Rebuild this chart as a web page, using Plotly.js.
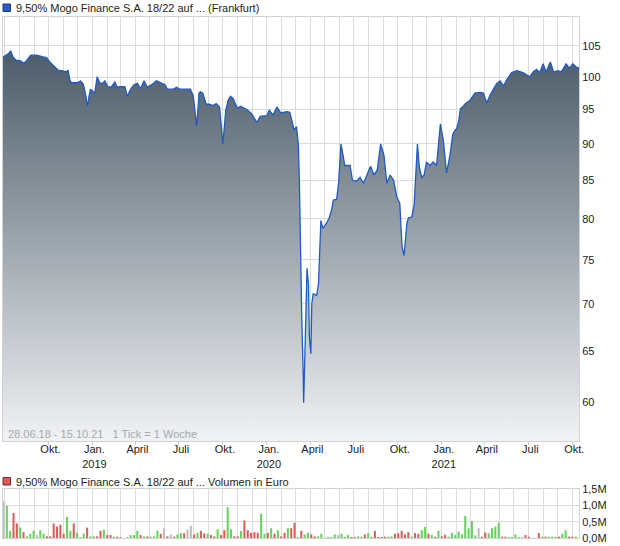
<!DOCTYPE html>
<html>
<head>
<meta charset="utf-8">
<script src="https://cdn.plot.ly/plotly-3.0.1.min.js"></script>
<style>html,body{margin:0;padding:0;background:#fff;}#chart{width:620px;height:546px;}</style>
</head>
<body>
<div id="chart"></div>
<script>
// ---- price series (Frankfurt) ----
const priceDates = [
'2018-06-28','2018-07-09','2018-07-14','2018-07-19','2018-07-25','2018-08-02','2018-08-11','2018-08-16','2018-08-25','2018-09-06',
'2018-09-20','2018-09-27','2018-10-04','2018-10-11','2018-10-21','2018-11-01','2018-11-08','2018-11-11','2018-11-15','2018-11-18',
'2018-12-02','2018-12-07','2018-12-13','2018-12-18','2018-12-22','2018-12-25','2018-12-28',
'2019-01-03','2019-01-06','2019-01-11',
'2019-01-17','2019-01-22','2019-01-27','2019-02-03','2019-02-10','2019-02-17','2019-02-22','2019-02-28','2019-03-10','2019-03-15',
'2019-03-22','2019-03-29','2019-04-05','2019-04-12','2019-04-19','2019-04-26','2019-05-05','2019-05-15','2019-05-26','2019-06-02',
'2019-06-07','2019-06-19','2019-06-26','2019-07-03','2019-07-25','2019-07-31','2019-08-03','2019-08-07','2019-08-10','2019-08-12',
'2019-08-15','2019-08-20','2019-08-27','2019-09-03','2019-09-10','2019-09-17','2019-09-24','2019-09-28','2019-10-01','2019-10-07',
'2019-10-12','2019-10-17','2019-10-23','2019-10-31','2019-11-07','2019-11-20','2019-11-30','2019-12-11','2019-12-18',
'2020-01-01','2020-01-06','2020-01-14','2020-01-22','2020-01-30','2020-02-12','2020-02-18','2020-02-24','2020-02-27','2020-03-03','2020-03-07',
'2020-03-09','2020-03-10','2020-03-12','2020-03-14','2020-03-17','2020-03-18','2020-03-19','2020-03-21','2020-03-25','2020-03-28',
'2020-03-30','2020-04-02','2020-04-04','2020-04-07','2020-04-14','2020-04-18','2020-04-20','2020-04-23','2020-04-27','2020-05-05',
'2020-05-11','2020-05-16','2020-05-19','2020-05-26','2020-05-30','2020-06-02','2020-06-04','2020-06-09','2020-06-12','2020-06-23',
'2020-06-28','2020-07-07','2020-07-14','2020-07-21','2020-07-29','2020-08-05','2020-08-12','2020-08-19','2020-08-26','2020-09-02',
'2020-09-08','2020-09-15','2020-09-22','2020-09-29','2020-10-05','2020-10-10','2020-10-14','2020-10-20','2020-10-23','2020-10-30',
'2020-11-04','2020-11-07','2020-11-11','2020-11-15','2020-11-20','2020-11-25','2020-11-30','2020-12-07','2020-12-14','2020-12-21',
'2020-12-25','2020-12-29',
'2021-01-04','2021-01-11','2021-01-18','2021-01-24','2021-01-29','2021-02-01','2021-02-05','2021-02-09',
'2021-02-15','2021-02-19','2021-03-01','2021-03-08','2021-03-11','2021-03-22','2021-03-29','2021-04-05','2021-04-12','2021-04-19',
'2021-04-26','2021-05-03','2021-05-10','2021-05-17','2021-05-27','2021-06-07','2021-06-20','2021-07-04','2021-07-11','2021-07-18',
'2021-07-25','2021-08-01','2021-08-07','2021-08-16','2021-08-23','2021-09-01','2021-09-08','2021-09-18','2021-09-25','2021-10-02',
'2021-10-10','2021-10-15'];

const priceValues = [
103.2,103.7,104.2,103.2,102.7,102.6,102.2,102.6,103.5,103.5,
103.2,103.1,102.4,101.9,101.1,100.95,100.8,101.1,99.5,99.1,
99.1,99.4,98.9,97.2,95.5,97.0,98.1,
97.7,97.5,100.05,
99.0,99.0,99.4,98.4,98.5,99.2,98.4,98.5,98.5,97.0,
98.1,98.8,99.0,98.2,99.4,98.4,98.8,99.4,99.1,98.8,
98.1,98.1,98.4,98.1,98.1,97.05,95.2,92.6,95.2,97.5,
97.7,97.5,95.8,95.8,95.6,95.9,95.4,92.6,90.0,94.9,
96.4,97.0,96.6,95.2,95.5,95.0,94.4,93.1,94.0,
94.1,94.9,94.2,95.4,94.5,94.7,94.6,92.9,92.0,92.5,89.8,
85.0,80.2,74.6,68.5,62.7,59.9,61.7,65.0,74.0,72.2,
66.4,64.7,70.0,71.1,70.9,72.2,75.3,79.8,78.8,79.45,
80.2,81.3,82.4,82.5,84.6,88.2,90.0,88.2,87.0,87.0,
85.0,84.9,85.4,84.6,85.9,86.9,85.7,86.4,90.0,88.4,
84.6,85.7,85.0,82.8,82.0,76.5,75.5,79.45,80.1,80.2,
81.7,85.0,90.0,86.8,85.4,85.7,87.5,87.0,87.5,87.0,
90.6,92.9,
90.6,86.0,88.4,91.4,92.0,92.2,93.2,95.1,
95.5,95.9,96.4,97.2,97.5,97.6,97.5,96.0,97.2,98.1,
99.0,99.4,98.6,99.6,100.7,101.0,100.7,100.05,100.8,101.2,
100.7,102.1,100.8,102.4,100.8,101.0,100.8,102.1,101.4,102.1,
101.5,101.5];

// ---- weekly volume (million euro) ----
const volumeWeekStart = '2018-06-29';
const volumeMillions = [
1.13,0.99,0.22,0.77,0.45,0.32,0.18,0.05,0.13,0.22,
0.09,0.24,0.13,0.05,0.05,0.45,0.35,0.41,0.13,0.65,
0.22,0.45,0.16,0.03,0.14,0.32,0.05,0.05,0.05,0.22,
0.26,0.09,0.09,0.04,0.04,0.02,0,0.02,0.09,0.09,
0.22,0.09,0.05,0.05,0.04,0.05,0.22,0.13,0.30,0.05,
0.11,0.04,0.11,0.15,0.15,0.26,0.38,0.11,0.16,0.22,
0.14,0.13,0.09,0.05,0.27,0.09,0.24,0.95,0.27,0.05,
0.05,0.22,0.54,0.24,0.16,0.18,0.16,0.75,0.13,0.16,
0.30,0.13,0.24,0.05,0.16,0.30,0.30,0.47,0.03,0.22,
0.11,0.16,0.11,0.05,0.05,0.13,0,0.03,0.03,0.11,
0.09,0.13,0.04,0.09,0.03,0.03,0.05,0.04,0.11,0.15,
0.04,0.22,0.03,0.03,0.04,0.04,0.05,0.13,0.15,0.22,
0.11,0.18,0.04,0.15,0.13,0.24,0.34,0.13,0.09,0.04,
0.22,0.05,0.10,0.04,0.15,0.09,0.20,0.11,0.68,0.30,
0.52,0.08,0.30,0.04,0.17,0.15,0.30,0.35,0.47,0.04,
0.04,0.03,0.03,0.11,0.03,0.04,0.09,0.04,0,0,
0.15,0.04,0.04,0.04,0.04,0.04,0.04,0.13,0.24,0.04,
0.04,0.04,0];
// g = up week, r = down week, n = unchanged
const volumeDirection = [
'n','g','g','r','r','g','r','g','g','g',
'n','g','g','r','r','r','r','r','r','g',
'g','r','g','g','g','r','g','g','r','r',
'g','r','r','g','r','r','r','r','g','g',
'g','r','g','r','g','g','g','r','n','r',
'n','r','g','g','r','n','n','r','g','r',
'r','g','r','r','g','r','r','g','g','r',
'r','g','r','r','r','r','r','g','g','r',
'g','r','g','r','r','g','r','r','g','r',
'g','g','r','r','g','g','g','g','g','g',
'n','g','g','g','r','r','g','g','r','g',
'g','r','r','r','r','g','g','r','r','r',
'r','r','g','r','r','g','g','r','g','r',
'g','r','r','g','g','g','g','g','g','g',
'g','g','n','r','r','g','g','g','g','r',
'r','g','g','g','g','n','r','r','r','r',
'r','g','r','g','g','g','r','g','g','r',
'r','g','g'];

const xTickDates = ['2018-10-01','2019-01-01','2019-04-01','2019-07-01','2019-10-01','2020-01-01','2020-04-01','2020-07-01','2020-10-01','2021-01-01','2021-04-01','2021-07-01','2021-10-01'];
const xTickLabels = ['Okt.','Jan.<br>2019','April','Juli','Okt.','Jan.<br>2020','April','Juli','Okt.','Jan.<br>2021','April','Juli','Okt.'];
const yTickValues = [60,65,70,75,80,85,90,95,100,105];
const volTickValues = [0,0.5,1.0,1.5];
const volTickLabels = ['0,0M','0,5M','1,0M','1,5M'];

const titleText = '9,50% Mogo Finance S.A. 18/22 auf ... (Frankfurt)';
const volTitleText = '9,50% Mogo Finance S.A. 18/22 auf ... Volumen in Euro';
const rangeText = '28.06.18 - 15.10.21\u00a0\u00a0\u00a01 Tick = 1 Woche';
const dateRange = ['2018-06-28','2021-10-15'];

// ---- build ----
const DAY = 864e5;
const t0 = Date.parse(volumeWeekStart + 'T00:00:00Z');
const volDates = volumeMillions.map((_, i) => new Date(t0 + i * 7 * DAY).toISOString().slice(0, 10));
const dirColor = {g: '#62d55a', r: '#d95f5f', n: '#bdbdbd'};
const volColors = volumeDirection.map(d => dirColor[d]);

const GRID = '#dcdcdc', BORDER = '#d2d2d2';
const FONT = 'Liberation Sans, Arial, sans-serif';

const traces = [
  {
    type: 'scatter', mode: 'lines', x: priceDates, y: priceValues,
    xaxis: 'x', yaxis: 'y',
    line: {color: '#1f5bc6', width: 1.3},
    fill: 'tozeroy',
    fillgradient: {type: 'vertical', start: 56.4, stop: 104.5,
      colorscale: [[0, '#f1f2f4'], [1, '#4b5b68']]},
    hoverinfo: 'skip'
  },
  {
    type: 'bar', x: volDates, y: volumeMillions, xaxis: 'x2', yaxis: 'y2',
    marker: {color: volColors, line: {width: 0}},
    width: 4.3 * DAY, hoverinfo: 'skip'
  }
];

const pb = 538, ph = 521; // paper bottom pixel, paper height
const py = p => (pb - p) / ph;
const px = p => (p - 3) / 576;

const layout = {
  width: 620, height: 546,
  margin: {l: 3, r: 41, t: 17, b: 8},
  paper_bgcolor: '#ffffff', plot_bgcolor: '#ffffff',
  showlegend: false,
  font: {family: FONT, size: 11, color: '#222'},
  xaxis: {
    type: 'date', range: dateRange, domain: [0, 1], anchor: 'y',
    tickvals: xTickDates, ticktext: xTickLabels, tickangle: 0,
    ticklabelshift: 2, ticklabelstandoff: -5,
    showgrid: true, gridcolor: GRID, gridwidth: 1,
    ticks: 'outside', ticklen: 3, tickcolor: '#cccccc',
    minor: {dtick: 'M1', tick0: '2018-07-01', showgrid: true, gridcolor: GRID, gridwidth: 1, ticks: '', ticklen: 2},
    showline: true, linecolor: BORDER, mirror: true, zeroline: false,
    tickfont: {family: FONT, size: 11, color: '#222'}
  },
  yaxis: {
    type: 'log', range: [Math.log10(56.4), Math.log10(109.9)], domain: [py(441), 1],
    side: 'right', anchor: 'x',
    tickvals: yTickValues, ticktext: yTickValues.map(String),
    showgrid: true, gridcolor: GRID, gridwidth: 1,
    ticks: '', showline: true, linecolor: BORDER, mirror: true, zeroline: false,
    tickfont: {family: FONT, size: 11, color: '#222'}
  },
  xaxis2: {
    type: 'date', range: dateRange, domain: [0, 1], anchor: 'y2',
    showticklabels: false, tickvals: xTickDates,
    showgrid: true, gridcolor: GRID, gridwidth: 1, ticks: '',
    minor: {dtick: 'M1', tick0: '2018-07-01', showgrid: true, gridcolor: GRID, gridwidth: 1},
    showline: true, linecolor: BORDER, mirror: true, zeroline: false
  },
  yaxis2: {
    range: [0, 1.5], domain: [0, py(489.3)], side: 'right', anchor: 'x2',
    tickvals: volTickValues, ticktext: volTickLabels,
    showgrid: true, gridcolor: GRID, gridwidth: 1, ticks: '',
    showline: true, linecolor: BORDER, mirror: true, zeroline: false,
    tickfont: {family: FONT, size: 11, color: '#222'}
  },
  shapes: [
    {type: 'rect', xref: 'paper', yref: 'paper', x0: px(3), x1: px(10.5), y0: py(11.5), y1: py(4),
      fillcolor: '#2a5cc8', line: {color: '#1b3670', width: 1}},
    {type: 'rect', xref: 'paper', yref: 'paper', x0: px(3), x1: px(10.5), y0: py(485), y1: py(477.5),
      fillcolor: '#dc5a57', line: {color: '#7d2a28', width: 1}}
  ],
  annotations: [
    {xref: 'paper', yref: 'paper', x: px(14), y: py(8), xanchor: 'left', yanchor: 'middle',
      text: titleText, showarrow: false, font: {family: FONT, size: 11, color: '#222'}},
    {xref: 'paper', yref: 'paper', x: px(14), y: py(481.5), xanchor: 'left', yanchor: 'middle',
      text: volTitleText, showarrow: false, font: {family: FONT, size: 11, color: '#222'}},
    {xref: 'paper', yref: 'paper', x: px(6), y: py(434), xanchor: 'left', yanchor: 'middle',
      text: rangeText, showarrow: false, font: {family: FONT, size: 11, color: '#a3aab1'}}
  ]
};

Plotly.newPlot('chart', traces, layout, {staticPlot: true, displayModeBar: false});
</script>
</body>
</html>
